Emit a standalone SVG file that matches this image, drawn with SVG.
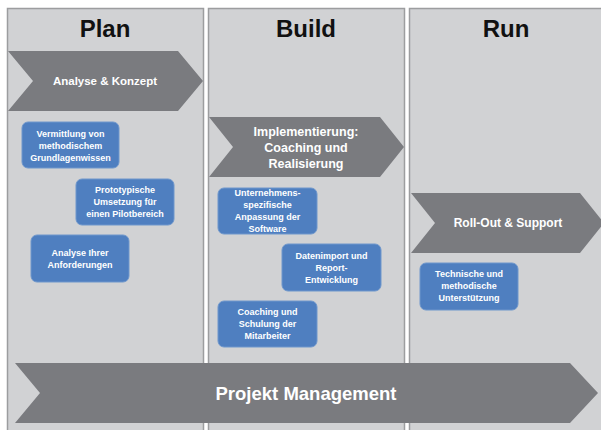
<svg xmlns="http://www.w3.org/2000/svg" width="601" height="430" viewBox="0 0 601 430">
<style>
.panel{fill:#d1d2d4;stroke:#9c9d9f;stroke-width:1.5}
.title{font-family:"Liberation Sans",Arial,sans-serif;font-weight:bold;font-size:24px;fill:#111;text-anchor:middle}
.chev{fill:#7a7b7f}
.ct{font-family:"Liberation Sans",Arial,sans-serif;font-weight:bold;fill:#fff;text-anchor:middle;dominant-baseline:central}
.box{fill:#4f7fc0;stroke:#6f97cc;stroke-width:1}
.bt{font-family:"Liberation Sans",Arial,sans-serif;font-weight:bold;font-size:9px;fill:#fff;text-anchor:middle;dominant-baseline:central}
</style>
<rect width="601" height="430" fill="#fff"/>
<g id="panel-plan">
<rect class="panel" x="7.5" y="8.5" width="196" height="425"/>
<text class="title" x="105" y="37">Plan</text>
</g>
<g id="panel-build">
<rect class="panel" x="208.5" y="8.5" width="196" height="425"/>
<text class="title" x="306" y="37">Build</text>
</g>
<g id="panel-run">
<rect class="panel" x="409.5" y="8.5" width="200" height="425"/>
<text class="title" x="506" y="37">Run</text>
</g>
<g id="chev-analyse">
<polygon class="chev" points="8,51 178,51 203,81 178,111 8,111 33,81"/>
<text class="ct" x="105" y="81" font-size="11.5">Analyse &amp; Konzept</text>
</g>
<g id="chev-impl">
<polygon class="chev" points="209,117 380,117 404,147 380,177 209,177 233,147"/>
<text class="ct" x="306" y="132" font-size="12.5">Implementierung:</text>
<text class="ct" x="306" y="148" font-size="12.5">Coaching und</text>
<text class="ct" x="306" y="164" font-size="12.5">Realisierung</text>
</g>
<g id="chev-rollout">
<polygon class="chev" points="411,193 580,193 604,223 580,253 411,253 435,223"/>
<text class="ct" x="508" y="223" font-size="12">Roll-Out &amp; Support</text>
</g>
<g id="chev-pm">
<polygon class="chev" points="15,363 570,363 598,393 570,423 15,423 40,393"/>
<text class="ct" x="306" y="393" font-size="18.5">Projekt Management</text>
</g>
<g id="box-vermittlung">
<rect class="box" x="22" y="122" width="97" height="46" rx="6"/>
<text class="bt" x="70.5" y="134">Vermittlung von</text>
<text class="bt" x="70.5" y="146">methodischem</text>
<text class="bt" x="70.5" y="158">Grundlagenwissen</text>
</g>
<g id="box-prototyp">
<rect class="box" x="76" y="179" width="98" height="46" rx="6"/>
<text class="bt" x="125" y="190">Prototypische</text>
<text class="bt" x="125" y="202">Umsetzung für</text>
<text class="bt" x="125" y="214">einen Pilotbereich</text>
</g>
<g id="box-analyse">
<rect class="box" x="31" y="235" width="98" height="47" rx="6"/>
<text class="bt" x="80" y="253">Analyse Ihrer</text>
<text class="bt" x="80" y="265">Anforderungen</text>
</g>
<g id="box-anpassung">
<rect class="box" x="218" y="188" width="99" height="46" rx="6"/>
<text class="bt" x="267.5" y="193">Unternehmens-</text>
<text class="bt" x="267.5" y="205">spezifische</text>
<text class="bt" x="267.5" y="217">Anpassung der</text>
<text class="bt" x="267.5" y="229">Software</text>
</g>
<g id="box-datenimport">
<rect class="box" x="282" y="244" width="99" height="47" rx="6"/>
<text class="bt" x="331.5" y="256">Datenimport und</text>
<text class="bt" x="331.5" y="268">Report-</text>
<text class="bt" x="331.5" y="280">Entwicklung</text>
</g>
<g id="box-coaching">
<rect class="box" x="218" y="301" width="99" height="46" rx="6"/>
<text class="bt" x="267.5" y="312">Coaching und</text>
<text class="bt" x="267.5" y="324">Schulung der</text>
<text class="bt" x="267.5" y="336">Mitarbeiter</text>
</g>
<g id="box-unterstuetzung">
<rect class="box" x="420" y="263" width="98" height="47" rx="6"/>
<text class="bt" x="469" y="274">Technische und</text>
<text class="bt" x="469" y="286">methodische</text>
<text class="bt" x="469" y="298">Unterstützung</text>
</g>
<g id="connectors"/>
</svg>
